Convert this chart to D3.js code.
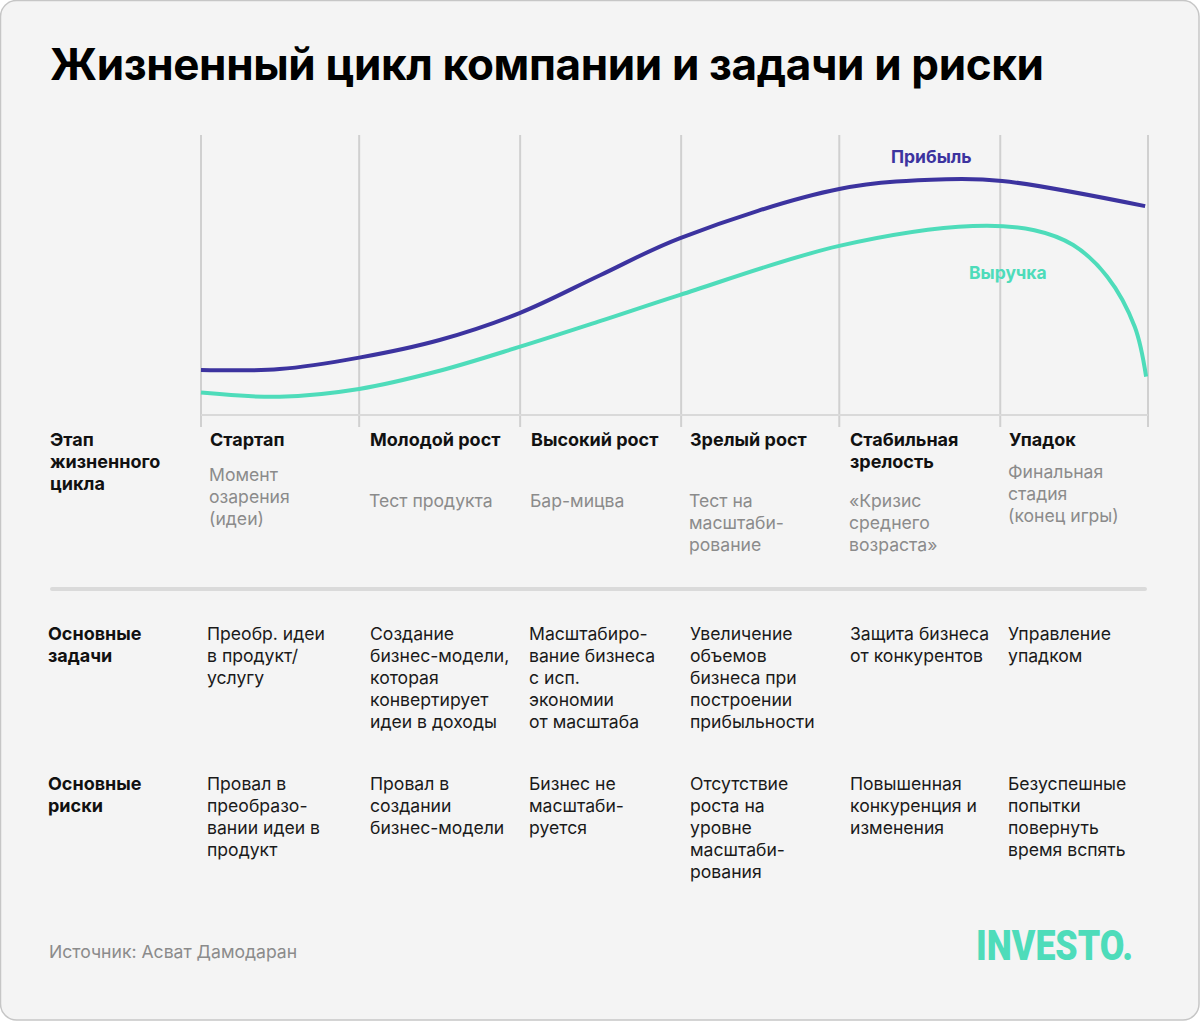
<!DOCTYPE html>
<html><head><meta charset="utf-8">
<script src="https://cdn.jsdelivr.net/npm/d3@7"></script>
<style>
html,body{margin:0;padding:0;background:#ffffff;}
svg{display:block;font-family:Inter,"Noto Sans",sans-serif;}
</style></head>
<body>
<svg id="chart" width="1200" height="1021"></svg>
<script>
// ---------- DATA ----------
const title = "Жизненный цикл компании и задачи и риски";
// stage boundaries on a 0..100 time axis
const stageBounds = [0, 16.7, 33.7, 50.7, 67.4, 84.4, 100];
const profitX = [0, 8.3, 16.7, 25.2, 33.7, 42.2, 50.6, 67.4, 78.7, 84.6, 99.7];
const profitY = [16.1, 16.4, 20.5, 26.8, 36.5, 50.0, 63.2, 80.7, 84.2, 83.6, 74.6];
const revenueX = [0, 8.3, 16.7, 25.2, 33.7, 42.2, 50.6, 67.4, 81.5, 88.0, 92.1, 95.7, 98.6, 99.8];
const revenueY = [8.0, 6.5, 9.3, 15.8, 24.4, 33.6, 42.9, 60.4, 67.5, 66.0, 60.7, 49.4, 31.5, 13.7];
const seriesNames = ["Прибыль", "Выручка"];

const rowHeaders = [["Этап", "жизненного", "цикла"], ["Основные", "задачи"], ["Основные", "риски"]];
const stageNames = [["Стартап"], ["Молодой рост"], ["Высокий рост"], ["Зрелый рост"], ["Стабильная", "зрелость"], ["Упадок"]];
const stageSubs = [
  ["Момент", "озарения", "(идеи)"],
  ["Тест продукта"],
  ["Бар-мицва"],
  ["Тест на", "масштаби-", "рование"],
  ["«Кризис", "среднего", "возраста»"],
  ["Финальная", "стадия", "(конец игры)"]
];
const tasks = [
  ["Преобр. идеи", "в продукт/", "услугу"],
  ["Создание", "бизнес-модели,", "которая", "конвертирует", "идеи в доходы"],
  ["Масштабиро-", "вание бизнеса", "с исп.", "экономии", "от масштаба"],
  ["Увеличение", "объемов", "бизнеса при", "построении", "прибыльности"],
  ["Защита бизнеса", "от конкурентов"],
  ["Управление", "упадком"]
];
const risks = [
  ["Провал в", "преобразо-", "вании идеи в", "продукт"],
  ["Провал в", "создании", "бизнес-модели"],
  ["Бизнес не", "масштаби-", "руется"],
  ["Отсутствие", "роста на", "уровне", "масштаби-", "рования"],
  ["Повышенная", "конкуренция и", "изменения"],
  ["Безуспешные", "попытки", "повернуть", "время вспять"]
];
const source = "Источник: Асват Дамодаран";
const logo = "INVESTO.";

// ---------- LAYOUT ----------
const W = 1200, H = 1021;
const C = {profit: "#3c339f", revenue: "#4edcba", grid: "#d0d0d0", text: "#111111", gray: "#8b8b8b"};
const svg = d3.select("#chart");

svg.append("rect").attr("x", 0.5).attr("y", 0.5).attr("width", W - 1.5).attr("height", H - 1.5)
  .attr("rx", 16).attr("fill", "#f4f4f4").attr("stroke", "#c6c6c6").attr("stroke-width", 1.5);

svg.append("text").attr("x", 50).attr("y", 80).attr("font-size", 44).attr("font-weight", 700)
  .attr("fill", "#000").attr("letter-spacing", -0.35).text(title);

const x = d3.scaleLinear().domain([0, 100]).range([201, 1148]);
const y = d3.scaleLinear().domain([0, 100]).range([415, 135]);

// grid
const g = svg.append("g");
g.selectAll("line.v").data(stageBounds).join("line")
  .attr("x1", d => x(d)).attr("x2", d => x(d)).attr("y1", 135).attr("y2", 427)
  .attr("stroke", C.grid).attr("stroke-width", 2);
g.append("line").attr("x1", x(0)).attr("x2", x(100)).attr("y1", y(0)).attr("y2", y(0))
  .attr("stroke", "#d9d9d9").attr("stroke-width", 2);

const line = d3.line().x(d => x(d[0])).y(d => y(d[1])).curve(d3.curveCatmullRom.alpha(0.5));
const profit = profitX.map((v, i) => [v, profitY[i]]);
const revenue = revenueX.map((v, i) => [v, revenueY[i]]);
g.append("path").datum(revenue).attr("d", line).attr("fill", "none")
  .attr("stroke", C.revenue).attr("stroke-width", 4);
g.append("path").datum(profit).attr("d", line).attr("fill", "none")
  .attr("stroke", C.profit).attr("stroke-width", 4);

g.append("text").attr("x", 891).attr("y", 163).attr("font-size", 17.5).attr("font-weight", 700)
  .attr("fill", C.profit).text(seriesNames[0]);
g.append("text").attr("x", 969).attr("y", 279).attr("font-size", 17.5).attr("font-weight", 700)
  .attr("fill", C.revenue).text(seriesNames[1]);

// table
const colX = [210, 370, 531, 690, 850, 1009];
const cellX = [207, 370, 529, 690, 850, 1008];
const LH = 22;
function block(xp, yp, lines, opts) {
  const t = svg.append("text").attr("x", xp).attr("y", yp).attr("font-size", opts.bold ? 18 : 17.6)
    .attr("font-weight", opts.bold ? 700 : 400).attr("fill", opts.color);
  t.selectAll("tspan").data(lines).join("tspan").attr("x", xp)
    .attr("dy", (d, i) => i === 0 ? 0 : LH).text(d => d);
}
block(50, 446, rowHeaders[0], {bold: true, color: C.text});
block(48, 640, rowHeaders[1], {bold: true, color: C.text});
block(48, 790, rowHeaders[2], {bold: true, color: C.text});

const subTop = [481, 507, 507, 507, 507, 478];
stageNames.forEach((s, i) => block(colX[i], 446, s, {bold: true, color: C.text}));
stageSubs.forEach((s, i) => block(colX[i] - 1, subTop[i], s, {bold: false, color: C.gray}));

svg.append("rect").attr("x", 50).attr("y", 587).attr("width", 1097).attr("height", 4)
  .attr("rx", 2).attr("fill", "#dadada");

tasks.forEach((s, i) => block(cellX[i], 640, s, {bold: false, color: "#1a1a1a"}));
risks.forEach((s, i) => block(cellX[i], 790, s, {bold: false, color: "#1a1a1a"}));

// footer
svg.append("text").attr("x", 49).attr("y", 958).attr("font-size", 17.6).attr("fill", C.gray).text(source);
svg.append("text").attr("x", 976).attr("y", 960).attr("font-size", 42).attr("font-weight", 900)
  .attr("font-family", "Roboto, Inter, sans-serif")
  .attr("textLength", 157).attr("lengthAdjust", "spacingAndGlyphs")
  .attr("fill", C.revenue).text(logo);
</script>
</body></html>
